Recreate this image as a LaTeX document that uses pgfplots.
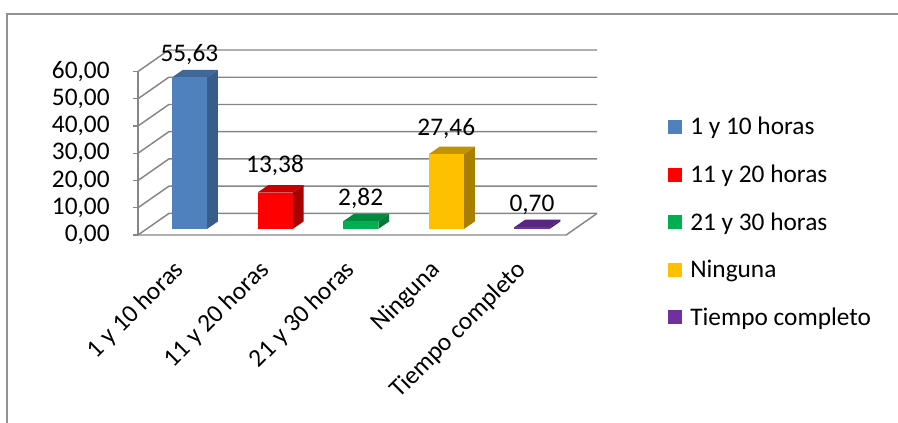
\documentclass[border=0pt]{standalone}
\usepackage{pgfplots}
\pgfplotsset{compat=1.18}
\usepackage{fontspec}
\setmainfont{Carlito}

\definecolor{gridc}{HTML}{868686}
\definecolor{cBlue}{HTML}{4F81BD}\definecolor{cBlueS}{HTML}{385D8A}\definecolor{cBlueT}{HTML}{3F6797}
\definecolor{cRed}{HTML}{FF0000}\definecolor{cRedS}{HTML}{A60000}\definecolor{cRedT}{HTML}{C80000}
\definecolor{cGreen}{HTML}{00B050}\definecolor{cGreenS}{HTML}{007A38}\definecolor{cGreenT}{HTML}{008A40}
\definecolor{cGold}{HTML}{FFC000}\definecolor{cGoldS}{HTML}{A87F00}\definecolor{cGoldT}{HTML}{C29300}
\definecolor{cPurp}{HTML}{7030A0}\definecolor{cPurpS}{HTML}{4B2070}\definecolor{cPurpT}{HTML}{57267E}

% one 3d bar: front, top and side faces, all in data coordinates
% #1 = category, #2 = value, #3 = colour stem
\newcommand{\drawbar}[3]{%
  \pgfmathsetmacro\xa{#1-0.104}\pgfmathsetmacro\xb{#1+0.306}%
  \pgfmathsetmacro\xc{#1+0.433}\pgfmathsetmacro\xd{#1+0.023}%
  \pgfmathsetmacro\ya{#2+2.2}\pgfmathsetmacro\yb{#2+4.96}%
  \addplot[fill=#3S, draw=none, forget plot] coordinates
    {(\xb,2.2) (\xc,4.96) (\xc,\yb) (\xb,\ya)} -- cycle;
  \addplot[fill=#3T, draw=none, forget plot] coordinates
    {(\xa,\ya) (\xb,\ya) (\xc,\yb) (\xd,\yb)} -- cycle;
  \addplot[fill=#3, draw=none] coordinates
    {(\xa,2.2) (\xb,2.2) (\xb,\ya) (\xa,\ya)} -- cycle;
}

\begin{document}
\begin{tikzpicture}[font=\fontsize{19}{23}\selectfont]
% page: 898 x 423 px, 1px = 0.75pt, axis origin at px (138,235)
\path[use as bounding box] (-103.5pt,-141pt) rectangle (570pt,176.25pt);
\draw[gridc!90, line width=1.1pt] (-98.25pt,-141pt) -- (-98.25pt,165.75pt) -- (570pt,165.75pt);

\begin{axis}[
  at={(0pt,0pt)}, anchor=south west,
  scale only axis,
  width=344.25pt, height=138.75pt,
  xmin=-0.5, xmax=4.86,
  ymin=0, ymax=67.9,
  axis x line*=bottom, axis y line*=left,
  axis line style={draw=none},
  clip=false,
  ytick={0,10,...,60},
  xtick={0,1,2,3,4},
  xticklabels={1 y 10 horas,11 y 20 horas,21 y 30 horas,Ninguna,Tiempo completo},
  minor xtick={-0.5,0.5,...,4.5},
  tick align=outside,
  major tick length=3.75pt, minor tick length=3.75pt,
  tick style={gridc, line width=1.1pt},
  xtick style={draw=none},
  minor tick style={gridc, line width=1.1pt, draw=gridc},
  xticklabel style={anchor=east, rotate=45, xshift=-11pt, yshift=-13.5pt},
  yticklabel style={xshift=-14pt},
  /pgf/number format/.cd, fixed, fixed zerofill, precision=2, use comma, assume math mode=true,
  /pgfplots/.cd,
  legend style={draw=none, fill=none, at={(axis description cs:1.146,0.666)}, anchor=north west,
    row sep=17pt, font=\fontsize{19}{23}\selectfont},
  legend cell align=left,
  legend image code/.code={\fill[#1] (0pt,-5.25pt) rectangle (10.5pt,5.25pt); \path (14.5pt,0pt);},
]
% walls and gridlines
\addplot[gridc, line width=1.1pt, forget plot] coordinates {(-0.5,0) (-0.5,60)};
\addplot[gridc, line width=1.1pt, forget plot] coordinates {(-0.5,0) (4.5,0) (4.86,7.9)};
\addplot[gridc, line width=1.1pt, forget plot] coordinates {(-0.5,0) (-0.14,7.9) (4.86,7.9)};
\addplot[gridc, line width=1.1pt, forget plot] coordinates {(-0.5,10) (-0.14,17.9) (4.86,17.9)};
\addplot[gridc, line width=1.1pt, forget plot] coordinates {(-0.5,20) (-0.14,27.9) (4.86,27.9)};
\addplot[gridc, line width=1.1pt, forget plot] coordinates {(-0.5,30) (-0.14,37.9) (4.86,37.9)};
\addplot[gridc, line width=1.1pt, forget plot] coordinates {(-0.5,40) (-0.14,47.9) (4.86,47.9)};
\addplot[gridc, line width=1.1pt, forget plot] coordinates {(-0.5,50) (-0.14,57.9) (4.86,57.9)};
\addplot[gridc, line width=1.1pt, forget plot] coordinates {(-0.5,60) (-0.14,67.9) (4.86,67.9)};
% bars
\drawbar{0}{55.63}{cBlue}
\drawbar{1}{13.38}{cRed}
\drawbar{2}{2.82}{cGreen}
\drawbar{3}{27.46}{cGold}
\drawbar{4}{0.70}{cPurp}
\legend{1 y 10 horas,11 y 20 horas,21 y 30 horas,Ninguna,Tiempo completo}
% values
\addplot[draw=none, mark=none, forget plot, point meta=explicit,
  nodes near coords, nodes near coords style={anchor=south, black}]
  coordinates {(0.1,60.59)[55.63] (1.1,19.9)[13.38] (2.1,7.78)[2.82] (3.1,33.6)[27.46] (4.1,5.66)[0.70]};
\end{axis}
\end{tikzpicture}
\end{document}
